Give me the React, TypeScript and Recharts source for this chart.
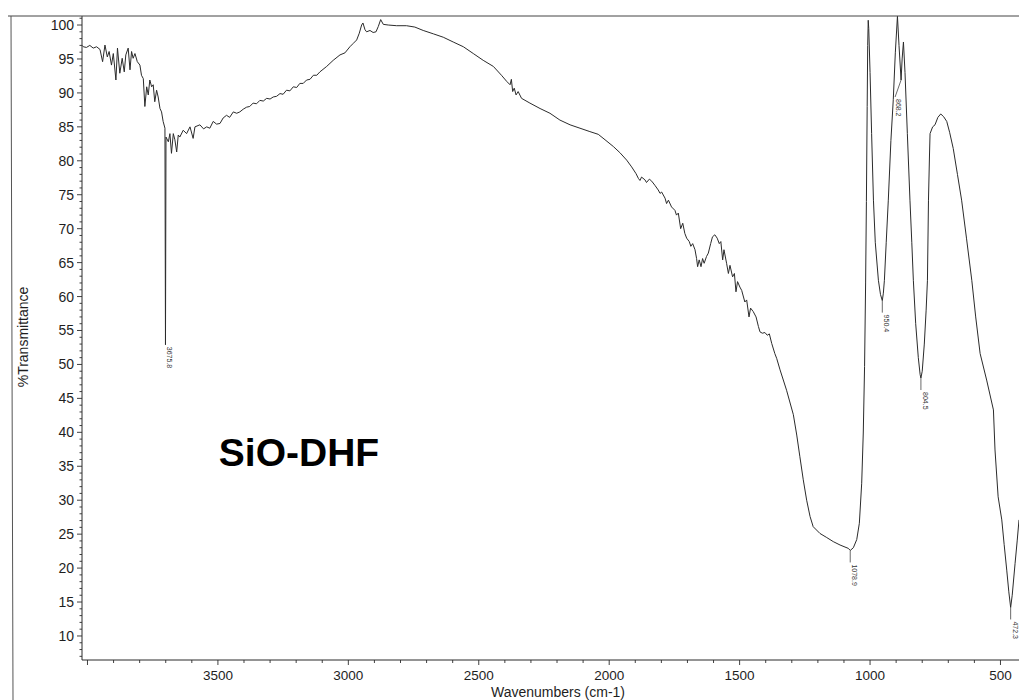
import React from 'react';
import { LineChart, Line, XAxis, YAxis, ReferenceDot } from 'recharts';

// [wavenumber (cm-1), %Transmittance]
const regionOH: [number, number][] = [
  [4020, 97.0], [4016, 96.8], [4004, 96.7], [3991, 97.0], [3978, 96.6], [3965, 96.8], [3952, 96.4],
  [3942, 94.6], [3933, 97.05], [3924, 95.3], [3917, 96.1], [3908, 94.1], [3901, 95.8], [3891, 91.9],
  [3885, 96.6], [3876, 92.9], [3867, 95.1], [3859, 93.1], [3853, 95.6], [3844, 96.6], [3837, 93.4],
  [3831, 96.1], [3825, 95.1], [3818, 95.8], [3809, 94.6], [3799, 94.1], [3793, 92.6], [3786, 92.1],
  [3780, 88.0], [3773, 90.9], [3767, 89.7], [3761, 91.9], [3754, 90.9], [3748, 91.2], [3742, 88.7],
  [3735, 90.4], [3729, 89.4], [3722, 87.7], [3716, 87.2], [3710, 85.8], [3703, 84.8], [3701, 52.9],
  [3699, 83.5], [3690, 82.8], [3684, 84.0], [3678, 81.1], [3671, 84.0], [3665, 83.1], [3658, 81.3],
  [3652, 83.8], [3646, 83.5], [3633, 84.5], [3620, 84.0], [3607, 85.0], [3595, 83.3], [3588, 85.0],
  [3569, 85.3], [3555, 84.7], [3543, 85.0], [3531, 84.8], [3518, 85.8], [3505, 85.4], [3492, 85.5],
  [3480, 86.3], [3467, 86.7], [3455, 86.4], [3441, 87.2], [3428, 87.0], [3416, 87.2], [3403, 87.6],
  [3390, 87.9], [3378, 88.0], [3365, 88.5], [3352, 88.4], [3339, 88.9], [3326, 88.8], [3313, 89.2],
  [3300, 89.1], [3288, 89.4], [3275, 89.5], [3262, 89.9], [3250, 89.8], [3237, 90.4], [3224, 90.3],
  [3211, 90.9], [3198, 90.8], [3186, 91.4], [3173, 91.4], [3160, 91.9], [3147, 92.0], [3134, 92.6],
  [3121, 92.6], [3109, 93.1],
];

const regionCH: [number, number][] = [
  [3083, 93.9], [3058, 94.8], [3032, 95.6], [3013, 95.9], [2994, 96.8], [2981, 97.3], [2968, 97.8],
  [2958, 98.8], [2949, 100.0], [2944, 100.3], [2936, 99.3], [2930, 99.0], [2917, 99.2], [2905, 98.9],
  [2894, 99.0], [2885, 99.8], [2876, 100.8], [2866, 100.1], [2847, 100.0], [2815, 99.9], [2777, 99.9],
  [2745, 99.7], [2713, 99.2], [2674, 98.7], [2636, 98.2], [2598, 97.5], [2559, 96.8], [2521, 95.8],
  [2483, 94.8], [2444, 93.9], [2413, 92.6], [2393, 91.7], [2380, 91.2], [2375, 92.0], [2370, 90.2],
  [2364, 90.7], [2357, 89.7], [2349, 90.2], [2336, 89.2], [2304, 88.5], [2265, 87.7], [2227, 87.0],
  [2189, 86.0], [2150, 85.3], [2112, 84.8],
];

const regionMid: [number, number][] = [
  [2074, 84.3], [2042, 83.9], [2016, 83.1], [1984, 82.1], [1959, 81.2], [1933, 80.1], [1914, 79.1],
  [1897, 78.1], [1888, 77.4], [1882, 77.1], [1876, 77.6], [1863, 77.2], [1857, 76.8], [1846, 77.3],
  [1837, 77.0], [1825, 76.4], [1812, 75.7], [1805, 75.2], [1799, 75.4], [1786, 74.5], [1780, 73.7],
  [1773, 74.2], [1761, 73.2], [1748, 72.7], [1742, 72.0], [1735, 72.3], [1726, 70.0], [1718, 70.8],
  [1710, 69.3], [1703, 68.6], [1693, 68.1], [1687, 67.4], [1680, 67.8], [1671, 66.9], [1665, 65.6],
  [1661, 64.4], [1655, 65.4], [1648, 64.4], [1642, 65.6], [1636, 64.9], [1627, 65.9], [1620, 66.4],
  [1611, 67.8], [1604, 68.8], [1595, 69.1], [1586, 68.6], [1578, 67.8], [1572, 68.1], [1565, 65.4],
  [1560, 66.9], [1550, 64.9], [1543, 63.4], [1537, 64.6], [1527, 62.9], [1520, 63.4], [1514, 60.7],
  [1508, 62.2], [1499, 61.4], [1492, 60.9], [1480, 59.2], [1473, 59.5], [1464, 57.0], [1458, 58.3],
  [1448, 57.8], [1437, 57.0], [1428, 55.6], [1422, 54.8], [1413, 54.6], [1403, 54.7], [1394, 54.3],
  [1386, 54.5], [1377, 53.1], [1365, 51.6], [1358, 50.9],
];

const regionFingerprint: [number, number][] = [
  [1345, 49.2], [1320, 46.2], [1294, 42.6], [1281, 39.6], [1269, 36.4], [1256, 33.0], [1243, 30.0],
  [1230, 27.6], [1218, 26.1], [1192, 25.1], [1166, 24.5], [1141, 23.9], [1115, 23.4], [1096, 23.1],
  [1083, 22.9], [1076, 22.6], [1064, 23.0], [1051, 24.2], [1041, 26.6], [1032, 32.5], [1026, 39.9],
  [1021, 49.7], [1017, 62], [1014, 74], [1011, 88], [1009, 97], [1007, 100.7], [1005, 99.5],
  [1000, 93], [994, 84], [987, 74.2], [980, 68], [968, 62.4], [960, 60.3], [953, 59.4], [949, 60.5],
  [945, 62.4], [938, 68], [930, 74.2], [920, 83], [911, 89.0], [903, 96], [895, 101.3], [889, 97],
  [881, 91.9], [877, 95], [872, 97.5], [866, 93], [857, 84.0], [847, 74.2], [840, 68], [834, 62.4],
  [825, 56], [815, 51], [808, 48.5], [805, 48.0], [800, 49], [792, 53], [785, 58], [780, 62.4],
  [776, 74.2], [772, 81], [770, 84.0], [760, 85.0], [751, 85.3], [740, 86.4], [729, 86.9], [718, 86.5],
  [706, 85.8], [695, 84.2], [681, 81.8], [665, 78], [649, 74.2], [630, 68.5], [610, 62.4], [595, 57],
  [578, 51.6], [553, 47.7], [540, 45.5], [527, 43.3], [521, 37.4], [509, 30.5], [495, 27.1],
  [486, 23.5], [476, 19.7], [468, 16.5], [461, 14.2], [455, 16], [444, 20.7], [436, 24], [429, 27.1],
];

const peaks = [
  { w: 3701, t: 52.9, label: '3675.8' },
  { w: 1076, t: 22.6, label: '1078.9' },
  { w: 953, t: 59.4, label: '950.4' },
  { w: 881, t: 91.9, label: '868.2' },
  { w: 805, t: 48.0, label: '804.5' },
  { w: 461, t: 14.2, label: '472.3' },
];

const xDomain: [number, number] = [429, 4021];
const yDomain: [number, number] = [6.46, 101.33];
const xTicks = Array.from({ length: 36 }, (_, i) => 500 + i * 100);
const xLabelled = [500, 1000, 1500, 2000, 2500, 3000, 3500];
const yTicks = Array.from({ length: 95 }, (_, i) => 7 + i);
const yLabelled = [10, 15, 20, 25, 30, 35, 40, 45, 50, 55, 60, 65, 70, 75, 80, 85, 90, 95, 100];

const data = [...regionOH, ...regionCH, ...regionMid, ...regionFingerprint].map(([w, t]) => ({ w, t }));

const INK = '#2b2b2b';
const FONT = '"Liberation Sans", Arial, sans-serif';

const YTick = (props: any) => {
  const { x, y, payload } = props;
  const v = payload.value;
  const major = v % 5 === 0;
  return (
    <g>
      <line x1={x} x2={x - (major ? 5 : 2.5)} y1={y} y2={y} stroke={INK} strokeWidth={0.9} />
      {yLabelled.includes(v) && (
        <text x={x - 8} y={y} dy={5} textAnchor="end" fontSize={14} fontFamily={FONT} fill="#1e1e1e">
          {v}
        </text>
      )}
    </g>
  );
};

const XTick = (props: any) => {
  const { x, y, payload } = props;
  const v = payload.value;
  const major = v % 500 === 0;
  return (
    <g>
      <line x1={x} x2={x} y1={y} y2={y + (major ? 5 : 3)} stroke={INK} strokeWidth={0.9} />
      {xLabelled.includes(v) && (
        <text x={x} y={y + 20} textAnchor="middle" fontSize={13.5} fontFamily={FONT} fill="#1e1e1e">
          {v}
        </text>
      )}
    </g>
  );
};

const PeakMark = (label: string) => (props: any) => {
  const { cx, cy } = props;
  if (cx == null || cy == null) return <g />;
  const diag = label === '868.2';
  const none = label === '3675.8';
  const lead = none ? 0 : 12;
  const ex = diag ? cx - 6 : cx;
  const ey = diag ? cy + 17 : cy + lead;
  const tx = diag ? ex + 1 : cx + 2;
  const ty = ey + 2;
  return (
    <g>
      {!none && <line x1={cx} y1={cy} x2={ex} y2={ey} stroke="#444" strokeWidth={0.8} />}
      <text
        x={tx}
        y={ty}
        transform={`rotate(90 ${tx} ${ty})`}
        fontSize={7}
        fontFamily={FONT}
        fill="#333"
        textAnchor="start"
      >
        {label}
      </text>
    </g>
  );
};

export default function App() {
  return (
    <div style={{ position: 'absolute', left: 0, top: 0, width: 1019, height: 700, background: '#fff', overflow: 'hidden' }}>
      <LineChart width={1019} height={700} data={data} margin={{ top: 16, right: 0, left: 0, bottom: 0 }}>
        <XAxis
          dataKey="w"
          type="number"
          domain={xDomain}
          reversed
          allowDataOverflow
          ticks={xTicks}
          interval={0}
          tickSize={0}
          tickMargin={0}
          tickLine={false}
          tick={<XTick />}
          height={40}
          axisLine={{ stroke: INK, strokeWidth: 1 }}
        />
        <YAxis
          type="number"
          domain={yDomain}
          allowDataOverflow
          ticks={yTicks}
          interval={0}
          tickSize={0}
          tickMargin={0}
          tickLine={false}
          tick={<YTick />}
          width={82}
          axisLine={{ stroke: INK, strokeWidth: 1 }}
        />
        <Line
          type="linear"
          dataKey="t"
          stroke={INK}
          strokeWidth={1}
          dot={false}
          isAnimationActive={false}
        />
        {peaks.map((p) => (
          <ReferenceDot key={p.label} x={p.w} y={p.t} r={1} shape={PeakMark(p.label)} ifOverflow="visible" />
        ))}
      </LineChart>
      <svg width={1019} height={700} style={{ position: 'absolute', left: 0, top: 0, pointerEvents: 'none' }}>
        <line x1={8} y1={16} x2={1019} y2={16} stroke="#444" strokeWidth={1} />
        <line x1={11} y1={16} x2={13} y2={700} stroke="#555" strokeWidth={1} />
        <text
          x={28}
          y={337}
          transform="rotate(-90 28 337)"
          textAnchor="middle"
          fontSize={14}
          fontFamily={FONT}
          fill="#1e1e1e"
        >
          %Transmittance
        </text>
        <text x={558} y={697} textAnchor="middle" fontSize={14} fontFamily={FONT} fill="#1e1e1e">
          Wavenumbers (cm-1)
        </text>
        <text x={299} y={466} textAnchor="middle" fontSize={39} fontWeight="bold" fontFamily={FONT} fill="#000">
          SiO-DHF
        </text>
      </svg>
    </div>
  );
}
